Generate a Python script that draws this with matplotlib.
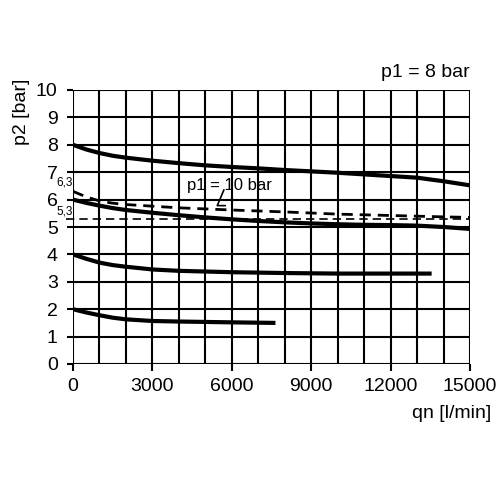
import matplotlib
matplotlib.use("Agg")
import matplotlib.pyplot as plt

plt.rcParams['font.family'] = ['Liberation Sans', 'DejaVu Sans']

# Data
x8 = [0, 500, 1000, 1500, 2000, 3000, 4000, 5000, 6000, 7000, 8000, 9000, 10000, 11000, 12000, 13000, 14000, 15000]
y8 = [8.0, 7.83, 7.7, 7.6, 7.53, 7.42, 7.33, 7.25, 7.19, 7.14, 7.08, 7.03, 6.98, 6.92, 6.86, 6.8, 6.67, 6.52]

x6 = [0, 500, 1000, 1500, 2000, 3000, 4000, 5000, 6000, 7000, 8000, 9000, 10000, 11000, 12000, 13000, 14000, 15000]
y6 = [6.0, 5.88, 5.78, 5.69, 5.62, 5.52, 5.43, 5.35, 5.28, 5.22, 5.17, 5.13, 5.1, 5.08, 5.07, 5.05, 5.0, 4.93]

x10 = [0, 500, 1000, 1500, 2000, 3000, 4000, 6000, 8000, 10000, 12000, 14000, 15000]
y10 = [6.3, 6.1, 5.95, 5.87, 5.82, 5.76, 5.7, 5.62, 5.55, 5.47, 5.42, 5.37, 5.35]

x4 = [0, 500, 1000, 1500, 2000, 3000, 4000, 6000, 8000, 10000, 12000, 13550]
y4 = [4.0, 3.84, 3.7, 3.61, 3.55, 3.45, 3.4, 3.35, 3.32, 3.3, 3.3, 3.3]

x2 = [0, 500, 1000, 1500, 2000, 3000, 4000, 6000, 7650]
y2 = [2.0, 1.88, 1.78, 1.69, 1.63, 1.57, 1.55, 1.52, 1.5]

ref_level = 5.3
xticks = [0, 3000, 6000, 9000, 12000, 15000]
yticks = list(range(0, 11))

fig = plt.figure(figsize=(5, 5), dpi=100)
ax = fig.add_axes([0.146, 0.272, 0.794, 0.548])
ax.set_xlim(0, 15000)
ax.set_ylim(0, 10)

# grid
for gx in range(0, 15001, 1000):
    ax.axvline(gx, color='black', lw=1.5, zorder=1)
for gy in yticks:
    ax.axhline(gy, color='black', lw=1.5, zorder=1)
for s in ax.spines.values():
    s.set_visible(False)

for xs, ys in [(x8, y8), (x6, y6), (x4, y4), (x2, y2)]:
    ax.plot(xs, ys, color='black', lw=3, zorder=3, solid_capstyle='butt', solid_joinstyle='round')
ax.plot(x10, y10, color='black', lw=2, ls=(0, (4, 2.5)), zorder=3)
ax.plot([-250, 15000], [ref_level, ref_level], color='black', lw=1.2, ls=(0, (5, 3)), zorder=3, clip_on=False)

ax.set_xticks(xticks)
ax.set_xticklabels([str(v) for v in xticks], fontsize=14)
ax.set_yticks(yticks)
ax.set_yticklabels([str(v) for v in yticks], fontsize=14)
ax.tick_params(axis='x', length=5, width=1.5, pad=5)
ax.tick_params(axis='y', length=4, width=1.5, pad=7)

ax.text(-20, 6.42, '6,3', fontsize=8.5, ha='right', va='bottom')
ax.text(-20, 5.36, '5,3', fontsize=8.5, ha='right', va='bottom')
ax.text(5900, 6.53, 'p1 = 10 bar', fontsize=12, ha='center', va='center')
ax.plot([5700, 5450, 5750], [6.35, 5.78, 5.78], color='black', lw=1.2, zorder=4)

fig.text(0.94, 0.855, 'p1 = 8 bar', fontsize=14, ha='right', va='center')
fig.text(0.982, 0.172, 'qn [l/min]', fontsize=14, ha='right', va='center')
fig.text(0.044, 0.776, 'p2 [bar]', fontsize=14, ha='center', va='center', rotation=90)

fig.savefig('out.png', dpi=100, facecolor='white')
